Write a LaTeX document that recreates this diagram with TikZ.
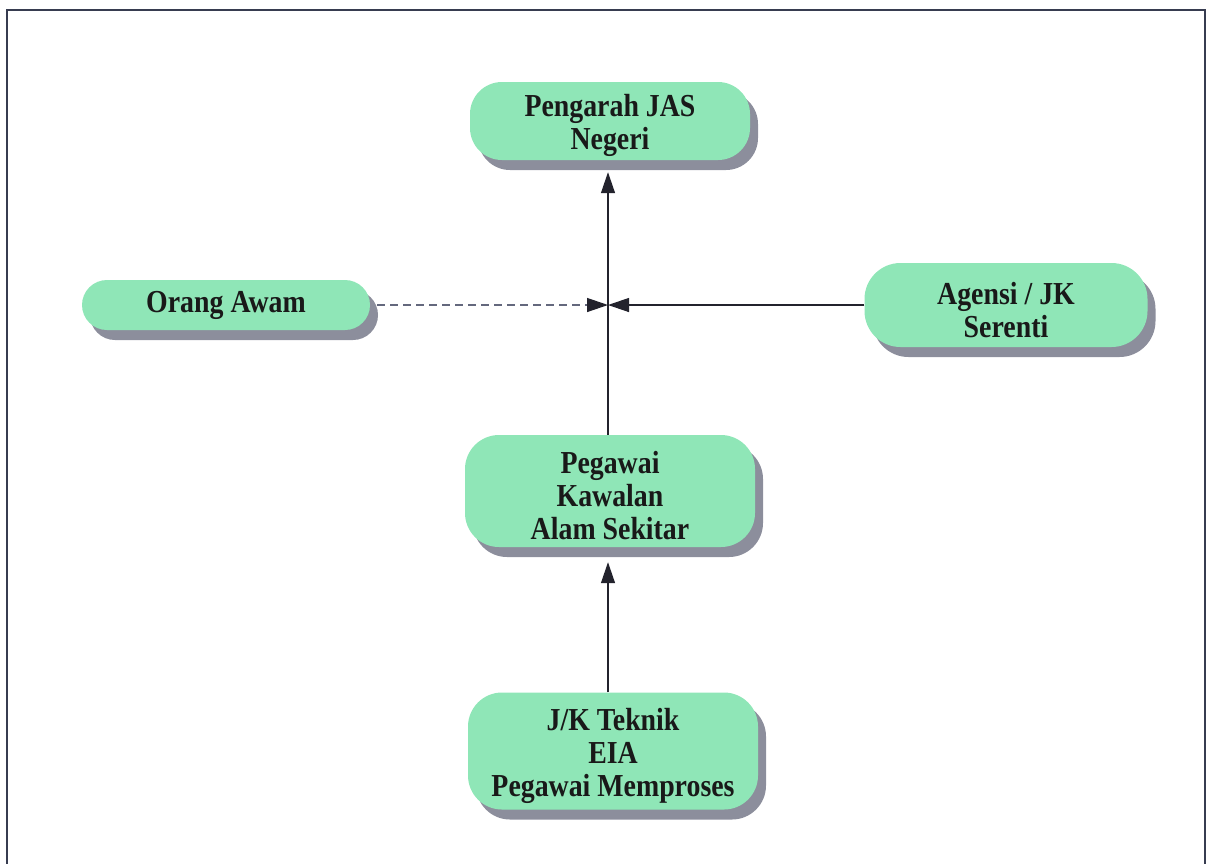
\documentclass[tikz,border=0pt]{standalone}
\usepackage{fontspec}
\newfontfamily\gar[FakeStretch=0.87]{Liberation Serif}
\usetikzlibrary{shadows,arrows.meta}
\newcommand\topstrut{\rule{0pt}{32pt}}
\definecolor{boxgreen}{RGB}{143,230,183}
\definecolor{shadowgray}{RGB}{140,142,156}
\definecolor{framecol}{RGB}{55,60,80}
\definecolor{linecol}{RGB}{35,35,45}
\definecolor{dashcol}{RGB}{100,104,125}
\tikzset{
  box/.style={fill=boxgreen, align=center, inner sep=0pt,
    font=\gar\bfseries\fontsize{32}{33}\selectfont, text=black!90,
    drop shadow={shadow xshift=8pt, shadow yshift=-10pt, fill=shadowgray, opacity=1}},
  conn/.style={draw=linecol, line width=1.3pt, -{Triangle[length=21pt,width=14pt]}},
  dashconn/.style={draw=dashcol, line width=1.3pt, dash pattern=on 8pt off 5pt,
    -{Triangle[length=21pt,width=14pt,color=linecol,fill=linecol]}}
}
\begin{document}
\begin{tikzpicture}[x=1pt,y=-1pt]
\useasboundingbox (0,0) rectangle (1212,863);
\draw[framecol, line width=2pt] (7,880) -- (7,10) -- (1205,10) -- (1205,880);

\node[box, minimum width=280pt, minimum height=78pt, rounded corners=32pt] (peng) at (610,121) {\topstrut Pengarah JAS\\Negeri};
\node[box, minimum width=288pt, minimum height=50pt, rounded corners=25pt] (oa) at (226,305) {Orang Awam};
\node[box, minimum width=283pt, minimum height=84pt, rounded corners=36pt] (ag) at (1006,305) {\topstrut Agensi / JK\\Serenti};
\node[box, minimum width=290pt, minimum height=112pt, rounded corners=34pt] (peg) at (610,491) {\topstrut Pegawai\\Kawalan\\Alam Sekitar};
\node[box, minimum width=290pt, minimum height=117pt, rounded corners=34pt] (jk) at (613,751) {\topstrut J/K Teknik\\EIA\\Pegawai Memproses};

\coordinate (j) at (608,305);

\draw[conn, shorten >=15pt] (jk.north -| j) -- (peg.south -| j);
\draw[conn, shorten >=12pt] (peg.north -| j) -- (peng.south -| j);
\draw[dashconn, shorten <=7pt] (oa.east) -- (j);
\draw[conn] (ag.west) -- (j);
\end{tikzpicture}
\end{document}
